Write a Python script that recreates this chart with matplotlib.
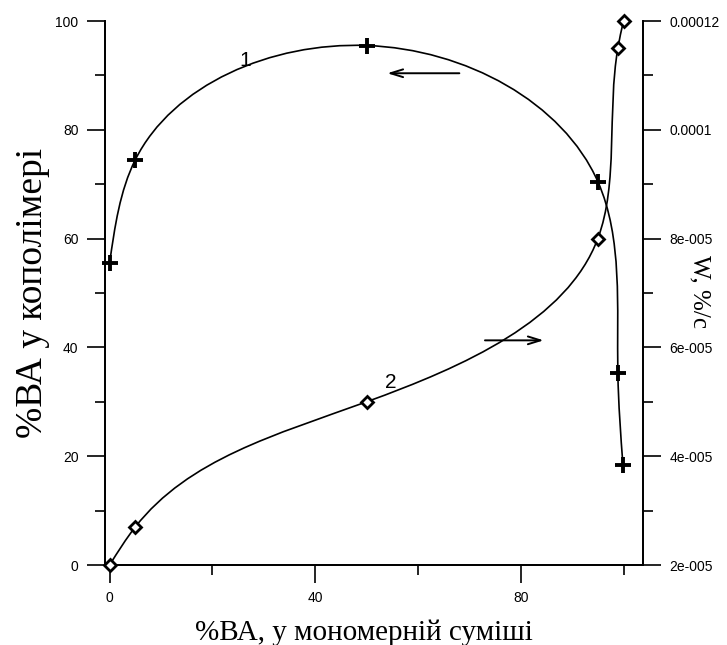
import numpy as np
import matplotlib
matplotlib.use("Agg")
import matplotlib.pyplot as plt
from matplotlib.path import Path
from matplotlib.patches import PathPatch

plt.rcParams['font.family'] = 'Liberation Sans'

# data
ba_monomer_1 = [0, 5, 50, 95, 98.9, 99.9]
ba_copolymer = [55.5, 74.5, 95.5, 70.5, 35.3, 18.3]

ba_monomer_2 = [0, 5, 50, 95, 98.9, 100]
rate_w = [2.0e-5, 2.7e-5, 5.0e-5, 8.0e-5, 1.15e-4, 1.2e-4]

x_ticks = [0, 40, 80]
left_ticks = [0, 20, 40, 60, 80, 100]
right_ticks = [2e-5, 4e-5, 6e-5, 8e-5, 1e-4, 1.2e-4]
right_tick_labels = ["2e-005", "4e-005", "6e-005", "8e-005", "0.0001", "0.00012"]


def smooth_path(xs, ys, xspan, yspan):
    # parametric natural cubic spline (chord length), written as bezier segments
    p = np.column_stack([np.asarray(xs, float) / xspan, np.asarray(ys, float) / yspan])
    n = len(p)
    h = np.linalg.norm(np.diff(p, axis=0), axis=1)
    A = np.zeros((n, n))
    r = np.zeros((n, 2))
    A[0, 0], A[0, 1] = 2, 1
    r[0] = 3 * (p[1] - p[0]) / h[0]
    A[-1, -2], A[-1, -1] = 1, 2
    r[-1] = 3 * (p[-1] - p[-2]) / h[-1]
    for i in range(1, n - 1):
        A[i, i - 1] = h[i]
        A[i, i] = 2 * (h[i - 1] + h[i])
        A[i, i + 1] = h[i - 1]
        r[i] = 3 * (h[i] / h[i - 1] * (p[i] - p[i - 1]) + h[i - 1] / h[i] * (p[i + 1] - p[i]))
    d = np.linalg.solve(A, r)
    verts = [p[0]]
    codes = [Path.MOVETO]
    for i in range(n - 1):
        verts += [p[i] + d[i] * h[i] / 3, p[i + 1] - d[i + 1] * h[i] / 3, p[i + 1]]
        codes += [Path.CURVE4] * 3
    verts = np.array(verts) * [xspan, yspan]
    return Path(verts, codes)


fig = plt.figure(figsize=(7.27, 6.45), dpi=100)
ax = fig.add_axes([0.1444, 0.124, 0.7401, 0.8434])
ax2 = ax.twinx()

ax.set_xlim(-0.9, 103.8)
ax.set_ylim(0, 100)
ax2.set_ylim(2e-5, 1.2e-4)

lw = 1.2
ax.add_patch(PathPatch(smooth_path(ba_monomer_1, ba_copolymer, 105, 100),
                       fill=False, lw=lw, color="black"))
ax2.add_patch(PathPatch(smooth_path(ba_monomer_2, rate_w, 105, 1e-4),
                        fill=False, lw=lw, color="black"))

ax.plot(ba_monomer_1, ba_copolymer, ls="none", marker="+", ms=12, mew=2.8,
        color="black", clip_on=False, zorder=5)
ax2.plot(ba_monomer_2, rate_w, ls="none", marker="D", ms=6, mew=2,
         mfc="white", mec="black", clip_on=False, zorder=5)

for a in (ax, ax2):
    a.spines["top"].set_visible(False)
    for s in a.spines.values():
        s.set_linewidth(1.3)

ax.set_xticks(x_ticks)
ax.set_xticks([20, 60, 100], minor=True)
ax.set_yticks(left_ticks)
ax.set_yticks([10, 30, 50, 70, 90], minor=True)
ax2.set_yticks(right_ticks, labels=right_tick_labels)
ax2.set_yticks([3e-5, 5e-5, 7e-5, 9e-5, 1.1e-4], minor=True)

ax.tick_params(which="major", length=13, width=1.2, labelsize=10, pad=6, direction="out")
ax.tick_params(which="minor", length=7, width=1.2, direction="out")
ax2.tick_params(which="major", length=13, width=1.2, labelsize=10, pad=6, direction="out")
ax2.tick_params(which="minor", length=7, width=1.2, direction="out")

ax.set_xlabel("%ВА, у мономерній суміші", fontfamily="Liberation Serif", fontsize=21, labelpad=2)
ax.xaxis.set_label_coords(0.482, -0.1)
ax.set_ylabel("%ВА у кополімері", fontfamily="Liberation Serif", fontsize=27, labelpad=4)
fig.text(0.962, 0.548, "W, %/c", fontfamily="Liberation Serif", fontsize=18,
         rotation=270, ha="center", va="center")

ax.text(26.4, 92.8, "1", fontsize=15, ha="center", va="center")
ax.text(54.8, 33.5, "2", fontsize=15, ha="center", va="center")
ax.annotate("", xy=(53.5, 90.4), xytext=(68.6, 90.4),
            arrowprops=dict(arrowstyle="->, head_length=0.9, head_width=0.28", lw=1.4, color="black"))
ax.annotate("", xy=(85, 41.3), xytext=(72.5, 41.3),
            arrowprops=dict(arrowstyle="->, head_length=0.9, head_width=0.28", lw=1.4, color="black"))

fig.savefig("out.png", dpi=100)
